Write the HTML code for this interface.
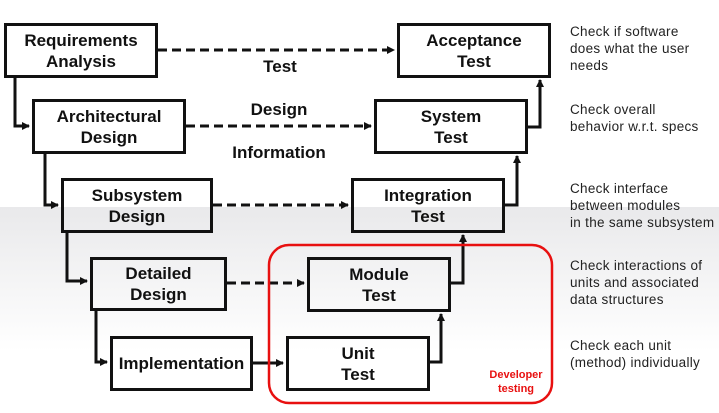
<!DOCTYPE html>
<html><head><style>
body{margin:0;width:719px;height:413px;overflow:hidden;background:#fff;font-family:"Liberation Sans",sans-serif;}
.bg{position:absolute;left:0;top:207px;width:719px;height:206px;background:linear-gradient(#e9e9eb,#fff 70%);}
.b{position:absolute;border:3px solid #111;box-sizing:border-box;display:flex;align-items:center;justify-content:center;text-align:center;font-weight:bold;font-size:17px;line-height:21px;color:#111;}
.t{position:absolute;font-size:13.5px;letter-spacing:0.3px;line-height:17px;color:#222;white-space:nowrap;}
.l{position:absolute;font-weight:bold;font-size:17px;color:#111;transform:translateX(-50%);}
</style></head><body>
<div class="bg"></div>
<svg width="719" height="413" style="position:absolute;left:0;top:0">
<defs><marker id="a" markerWidth="8" markerHeight="8" refX="7" refY="4" orient="auto" markerUnits="userSpaceOnUse"><path d="M0,0L8,4L0,8z" fill="#111"/></marker></defs>
<g stroke="#111" stroke-width="3" fill="none">
<g stroke-dasharray="9,5">
<line x1="158" y1="50" x2="394" y2="50" marker-end="url(#a)"/>
<line x1="186" y1="126" x2="371" y2="126" marker-end="url(#a)"/>
<line x1="213" y1="205" x2="348" y2="205" marker-end="url(#a)"/>
<line x1="227" y1="283" x2="304" y2="283" marker-end="url(#a)"/>
</g>
<polyline points="15,77 15,126 29,126" marker-end="url(#a)"/>
<polyline points="45,153 45,205 58,205" marker-end="url(#a)"/>
<polyline points="67,232 67,281 87,281" marker-end="url(#a)"/>
<polyline points="96,310 96,362 107,362" marker-end="url(#a)"/>
<line x1="253" y1="363" x2="283" y2="363" marker-end="url(#a)"/>
<polyline points="430,362 441,362 441,314" marker-end="url(#a)"/>
<polyline points="451,283 463,283 463,235" marker-end="url(#a)"/>
<polyline points="505,205 517,205 517,156" marker-end="url(#a)"/>
<polyline points="528,127 540,127 540,80" marker-end="url(#a)"/>
</g>
<rect x="269" y="245" width="283" height="158" rx="20" fill="none" stroke="#e81010" stroke-width="2.5"/>
</svg>
<div class="b" style="left:4px;top:23px;width:154px;height:55px">Requirements<br>Analysis</div>
<div class="b" style="left:397px;top:23px;width:154px;height:55px">Acceptance<br>Test</div>
<div class="b" style="left:32px;top:99px;width:154px;height:55px">Architectural<br>Design</div>
<div class="b" style="left:374px;top:99px;width:154px;height:55px">System<br>Test</div>
<div class="b" style="left:61px;top:178px;width:152px;height:55px">Subsystem<br>Design</div>
<div class="b" style="left:351px;top:178px;width:154px;height:55px">Integration<br>Test</div>
<div class="b" style="left:90px;top:257px;width:137px;height:54px">Detailed<br>Design</div>
<div class="b" style="left:307px;top:257px;width:144px;height:55px">Module<br>Test</div>
<div class="b" style="left:110px;top:336px;width:143px;height:55px">Implementation</div>
<div class="b" style="left:286px;top:336px;width:144px;height:55px">Unit<br>Test</div>
<div class="l" style="left:280px;top:57px">Test</div>
<div class="l" style="left:279px;top:100px">Design</div>
<div class="l" style="left:279px;top:143px">Information</div>
<div style="position:absolute;left:478px;top:368px;width:76px;text-align:center;color:#e81010;font-weight:bold;font-size:11px;line-height:14px">Developer<br>testing</div>
<div class="t" style="left:570px;top:23px">Check if software<br>does what the user<br>needs</div>
<div class="t" style="left:570px;top:101px">Check overall<br>behavior w.r.t. specs</div>
<div class="t" style="left:570px;top:180px">Check interface<br>between modules<br>in the same subsystem</div>
<div class="t" style="left:570px;top:257px">Check interactions of<br>units and associated<br>data structures</div>
<div class="t" style="left:570px;top:337px">Check each unit<br>(method) individually</div>
</body></html>
